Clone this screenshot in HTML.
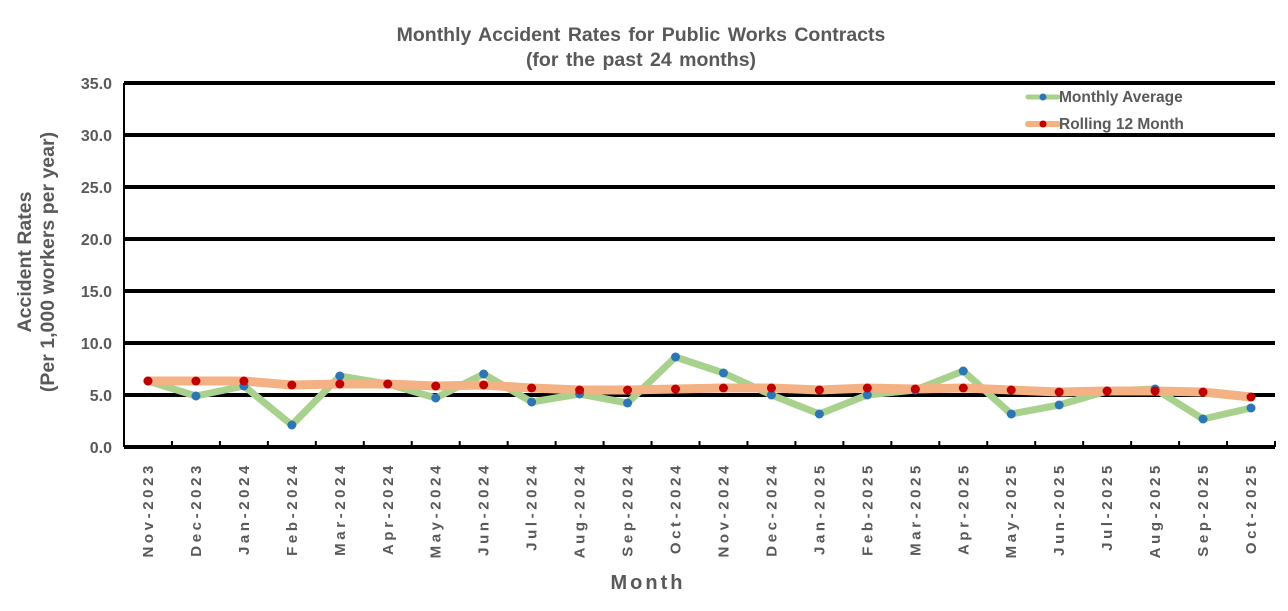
<!DOCTYPE html><html><head><meta charset="utf-8"><style>body{margin:0;background:#fff}svg{display:block}text{font-family:"Liberation Sans",Arial,sans-serif;font-weight:bold;fill:#595959}</style></head><body>
<svg id="s" width="1288" height="611" xmlns="http://www.w3.org/2000/svg"></svg>
<script>
var s=document.getElementById('s'),h='';
h+='<text x="641" y="41" text-anchor="middle" font-size="19.5" word-spacing="2">Monthly Accident Rates for Public Works Contracts</text>';
h+='<text x="641" y="66" text-anchor="middle" font-size="19.5" word-spacing="2">(for the past 24 months)</text>';
var L=124,R=1275,T=83,B=447,k=(B-T)/35;
for(var v=5;v<=35;v+=5){var y=B-v*k;h+='<line x1="'+L+'" x2="'+R+'" y1="'+y+'" y2="'+y+'" stroke="#000" stroke-width="4"/>';}
for(var v=0;v<=35;v+=5){var y=B-v*k;h+='<text x="112" y="'+(y+6)+'" text-anchor="end" font-size="16">'+v.toFixed(1)+'</text>';}
h+='<line x1="'+L+'" x2="'+L+'" y1="'+T+'" y2="'+B+'" stroke="#000" stroke-width="2"/>';
h+='<line x1="'+L+'" x2="'+R+'" y1="'+B+'" y2="'+B+'" stroke="#000" stroke-width="4"/>';
var w=(R-L)/24;for(var i=0;i<=24;i++){var x=L+i*w;h+='<line x1="'+x+'" x2="'+x+'" y1="'+B+'" y2="'+(B-6)+'" stroke="#000" stroke-width="2"/>';}
var m=['Nov-2023','Dec-2023','Jan-2024','Feb-2024','Mar-2024','Apr-2024','May-2024','Jun-2024','Jul-2024','Aug-2024','Sep-2024','Oct-2024','Nov-2024','Dec-2024','Jan-2025','Feb-2025','Mar-2025','Apr-2025','May-2025','Jun-2025','Jul-2025','Aug-2025','Sep-2025','Oct-2025'];
var a=[381,396,386,425,376,384,398,374,402,394,403,357,373,395,414,395,390,371,414,405,391,389,419,408];
var r=[381,381,381,385,384,384,386,385,388,390,390,389,388,388,390,388,389,388,390,392,391,391,392,397];
function X(i){return L+(i+0.5)*w}
var pa=a.map(function(y,i){return X(i)+','+y}).join(' '),pr=r.map(function(y,i){return X(i)+','+y}).join(' ');
h+='<polyline points="'+pa+'" fill="none" stroke="#a9d18e" stroke-width="7" stroke-linejoin="round"/>';
h+='<polyline points="'+pr+'" fill="none" stroke="#f4b183" stroke-width="9" stroke-linejoin="round"/>';
a.forEach(function(y,i){h+='<circle cx="'+X(i)+'" cy="'+y+'" r="4.5" fill="#2e75b6"/>'});
r.forEach(function(y,i){h+='<circle cx="'+X(i)+'" cy="'+y+'" r="4.5" fill="#c00000"/>'});
m.forEach(function(t,i){var x=X(i)+5;h+='<text transform="translate('+x+',462) rotate(-90)" text-anchor="end" font-size="15" letter-spacing="3.6">'+t+'</text>'});
h+='<text x="648" y="589" text-anchor="middle" font-size="20" letter-spacing="3">Month</text>';
h+='<text transform="translate(31,262) rotate(-90)" text-anchor="middle" font-size="19.5">Accident Rates</text>';
h+='<text transform="translate(54,262) rotate(-90)" text-anchor="middle" font-size="19.5">(Per 1,000 workers per year)</text>';
h+='<line x1="1028" x2="1058" y1="97" y2="97" stroke="#a9d18e" stroke-width="5" stroke-linecap="round"/><circle cx="1043" cy="97" r="3.5" fill="#2e75b6"/>';
h+='<text x="1059" y="102" font-size="15.5">Monthly Average</text>';
h+='<line x1="1028" x2="1058" y1="124" y2="124" stroke="#f4b183" stroke-width="6" stroke-linecap="round"/><circle cx="1043" cy="124" r="3.5" fill="#c00000"/>';
h+='<text x="1059" y="129" font-size="15.5">Rolling 12 Month</text>';
s.innerHTML=h;
</script></body></html>
